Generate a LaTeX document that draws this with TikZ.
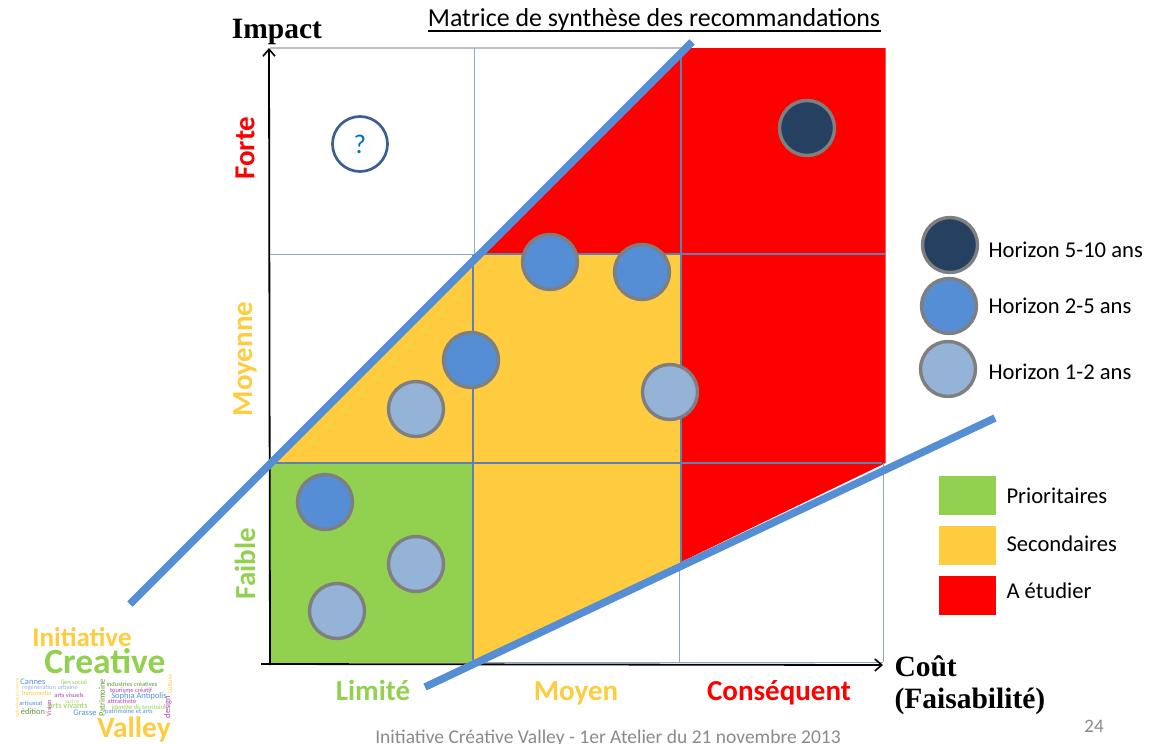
\documentclass[tikz,border=0pt]{standalone}
\usepackage{fontspec}
\usetikzlibrary{arrows.meta}
\setmainfont{Carlito}
\newfontfamily\serifb{Liberation Serif}
\definecolor{cgreen}{HTML}{92D050}
\definecolor{cyellow}{HTML}{FFCC3F}
\definecolor{cred}{HTML}{FF0000}
\definecolor{cline}{HTML}{558ED5}
\definecolor{cdark}{HTML}{254061}
\definecolor{cmid}{HTML}{558ED5}
\definecolor{clight}{HTML}{95B3D7}
\definecolor{cring}{HTML}{7F7F7F}
\definecolor{cgrid}{HTML}{5F80B0}
\definecolor{cgridthin}{HTML}{8FA8C4}
\definecolor{cfoot}{HTML}{8A8A8A}
\definecolor{cq}{HTML}{3B6090}
\definecolor{cqt}{HTML}{0070C0}
\definecolor{cmag}{HTML}{B040A8}
\tikzset{
  dot/.style={circle,draw=cring,line width=3.4pt,minimum size=55pt,inner sep=0pt},
  darkdot/.style={dot,fill=cdark},
  middot/.style={dot,fill=cmid},
  lightdot/.style={dot,fill=clight},
  gridline/.style={draw=cgrid,line width=1.6pt},
  thingrid/.style={draw=cgridthin,line width=1pt},
  bluebar/.style={draw=cline,line width=7.5pt},
  axis/.style={draw=black,line width=1.8pt,-{Straight Barb[length=7pt,width=12pt,line width=1.6pt]}},
  level/.style={font=\bfseries\fontsize{29}{29}\selectfont,rotate=90},
  cost/.style={font=\bfseries\fontsize{29}{29}\selectfont,anchor=base},
  legtext/.style={font=\fontsize{22.6}{22.6}\selectfont,anchor=west},
  swatch/.style={minimum width=57pt,minimum height=39pt,inner sep=0pt},
  axtitle/.style={font=\serifb\bfseries\fontsize{29.5}{29.5}\selectfont},
  wc/.style={inner sep=0pt,font=\fontsize{6.5}{6.5}\selectfont},
  wcb/.style={inner sep=0pt,font=\fontsize{8.5}{8.5}\selectfont}
}
\begin{document}
\begin{tikzpicture}[x=1pt,y=-1pt]
\useasboundingbox (0,0) rectangle (1159,744);
\clip (0,0) rectangle (1159,744);
% filled zones
\fill[cred] (690,48) -- (885.5,48) -- (885.5,463) -- (681,562) -- (681,254) -- (484,254) -- cycle;
\fill[cyellow] (484,254) -- (681,254) -- (681,562) -- (474,663) -- (474,463) -- (270,463) -- cycle;
\fill[cgreen] (270,463) rectangle (474,663);
% grid
\draw[draw=black!25,line width=1.2pt] (270,48) -- (690,48);
\draw[thingrid] (474,48) -- (474,254);
\draw[gridline] (473,254) -- (473,660);
\draw[gridline] (681,48) -- (681,563);
\draw[thingrid] (679,566) -- (679,663);
\draw[thingrid] (883,463) -- (883,662);
\draw[thingrid] (270,254) -- (484,254);
\draw[gridline] (484,254) -- (885,254);
\draw[gridline] (270,463) -- (882,463);
\draw[thingrid] (474,662.5) -- (883,662.5);
% axes
\coordinate (origin) at (270,665);
\coordinate (ytip) at (269,48);
\coordinate (xstart) at (261,664);
\coordinate (xtip) at (883,665);
\draw[axis] (origin) -- (ytip);
\draw[axis] (xstart) -- (xtip);
% blue limits
\coordinate (a1) at (130,604); \coordinate (a2) at (692,42);
\coordinate (b1) at (425,687); \coordinate (b2) at (995,418);
\draw[bluebar] (a1) -- (a2);
\draw[bluebar] (b1) -- (b2);
% title
\node (title) at (654,20) {\fontsize{25.9}{25.9}\selectfont Matrice de synthèse des recommandations};
\draw[black,line width=1.3pt] (428,31) -- (881,31);
\node[axtitle] (impact) at (277,32) {Impact};
\node[axtitle,anchor=west,align=left] (cout) at (891,685) {Coût\\[2pt](Faisabilité)};
% levels
\node[level,text=cred] (forte) at (245,148) {Forte};
\node[level,text=cyellow] (moyenne) at (245,359) {Moyenne};
\node[level,text=cgreen] (faible) at (245,563.5) {Faible};
\node[cost,text=cgreen] (limite) at (373,700) {Limité};
\node[cost,text=cyellow] (moyen) at (576,700) {Moyen};
\node[cost,text=cred] (consequent) at (779,700) {Conséquent};
% question
\node[circle,draw=cq,line width=2.7pt,minimum size=55pt,inner sep=0pt,text=cqt,font=\fontsize{27}{27}\selectfont] (q) at (360,144) {?};
% dots
\node[darkdot] (d1) at (807,128) {};
\node[middot] (m1) at (550,262) {};
\node[middot] (m2) at (642,272) {};
\node[middot] (m3) at (471,360) {};
\node[middot] (m4) at (325,502) {};
\node[lightdot] (l1) at (416,409) {};
\node[lightdot] (l2) at (670,392) {};
\node[lightdot] (l3) at (416,564) {};
\node[lightdot] (l4) at (337,611) {};
% legend
\node[darkdot] (ld) at (950,245) {};
\node[middot] (lm) at (949,306) {};
\node[lightdot] (ll) at (948,369) {};
\node[legtext] (t1) at (985,250) {Horizon 5-10 ans};
\node[legtext] (t2) at (985,306) {Horizon 2-5 ans};
\node[legtext] (t3) at (985,372) {Horizon 1-2 ans};
\node[swatch,fill=cgreen] (s1) at (967,495) {};
\node[swatch,fill=cyellow] (s2) at (967,545) {};
\node[swatch,fill=cred] (s3) at (967,595) {};
\node[legtext] (p1) at (1003,496) {Prioritaires};
\node[legtext] (p2) at (1003,544) {Secondaires};
\node[legtext] (p3) at (1003,591) {A étudier};
% footer
\node[text=cfoot,font=\fontsize{19.5}{19.5}\selectfont] (foot) at (608,738) {Initiative Créative Valley - 1er Atelier du 21 novembre 2013};
\node[text=cfoot,font=\fontsize{19}{19}\selectfont] (page) at (1094,726) {24};
% logo
\node[text=cyellow,font=\bfseries\fontsize{27}{27}\selectfont] (w1) at (82,637) {Initiative};
\node[text=cgreen,font=\bfseries\fontsize{35.5}{35.5}\selectfont] (w2) at (105,661) {Creative};
\node[text=cyellow,font=\bfseries\fontsize{29.5}{29.5}\selectfont] (w3) at (134,729) {Valley};
\node[wcb,text=cmid] (c1) at (33,682) {Cannes};
\node[wc,text=cgreen] (c2) at (74,682) {lien social};
\node[wc,text=clight] (c3) at (50,688) {régénération urbaine};
\node[wc,text=cyellow] (c4) at (36,693.5) {Transmedia};
\node[wc,text=cmag] (c5) at (69,695) {arts visuels};
\node[wc,text=cgreen!70] (c20) at (72,701) {autre};
\node[wcb,text=cgreen] (c6) at (68,706) {arts vivants};
\node[wc,text=cmid] (c7) at (31,703) {artisanat};
\node[wcb,text=cgreen!70!black] (c8) at (33,712) {édition};
\node[wcb,text=cmid] (c9) at (85,713) {Grasse};
\node[wc,text=cgreen!70!black] (c10) at (132,684) {industries créatives};
\node[wc,text=cmag] (c11) at (131,690) {tourisme créatif};
\node[wcb,text=cmid] (c12) at (139,696) {Sophia Antipolis};
\node[wc,text=cmag] (c13) at (122,701) {attractivité};
\node[wc,text=cgreen] (c14) at (139,707) {identité du territoire};
\node[wc,text=cmid] (c15) at (129,712) {patrimoine et arts};
\node[wcb,text=cgreen!70!black,rotate=90] (c16) at (102,698) {Patrimoine};
\node[wc,text=cmag,rotate=90] (c17) at (49,708) {Vision};
\node[wcb,text=cmag,rotate=90] (c18) at (168,707) {design};
\node[wc,text=cyellow,rotate=90] (c19) at (170,684) {Culture};
\node[wc,text=cyellow,rotate=90,font=\fontsize{4.5}{4.5}\selectfont] (c21) at (17,698) {audiovisuel et cinéma};
\end{tikzpicture}
\end{document}
